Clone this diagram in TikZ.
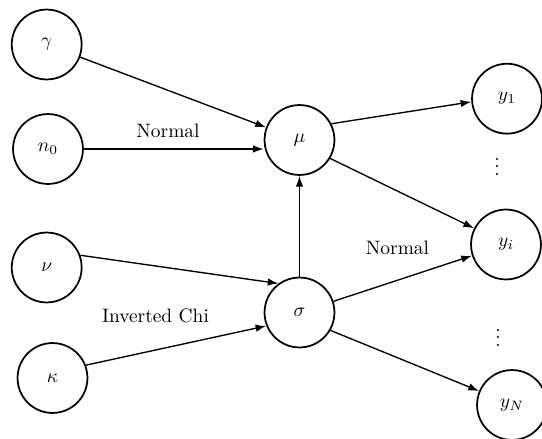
\documentclass[tikz,border=0pt]{standalone}
\usetikzlibrary{arrows.meta}
\begin{document}
\begin{tikzpicture}[x=0.515pt,y=-0.515pt,
  var/.style={circle,draw,line width=0.9pt,minimum size=36pt,inner sep=0pt},
  link/.style={line width=0.7pt,-{Latex[length=5.5pt,width=3.8pt]}},
  lbl/.style={inner sep=0pt}]
\useasboundingbox (0,0) rectangle (542,439);

% hyperparameters
\node[var] (gamma) at (46.7,44.5)  {$\gamma$};
\node[var] (n0)    at (48,149)     {$n_0$};
\node[var] (nu)    at (46.7,267.5) {$\nu$};
\node[var] (kappa) at (52.5,378)   {$\kappa$};

% parameters
\node[var] (mu)    at (299.5,140)   {$\mu$};
\node[var] (sigma) at (299.5,312.5) {$\sigma$};

% observations
\node[var] (y1) at (507,98.7)  {$y_1$};
\node[var] (yi) at (506,244.5) {$y_i$};
\node[var] (yN) at (512,405)   {$y_N$};
\node[lbl] (dots1) at (497,161) {$\vdots$};
\node[lbl] (dots2) at (498,332) {$\vdots$};

% distribution labels
\node[lbl] (normalmu) at (168,131)   {Normal};
\node[lbl] (normaly)  at (397.5,248) {Normal};
\node[lbl] (invchi)   at (155.5,316) {Inverted Chi};

% dependencies
\draw[link] (gamma) -- (mu);
\draw[link] (n0) -- (n0 -| mu.west);
\draw[link] (sigma) -- (mu);
\draw[link] (nu.20) -- (sigma.126);
\draw[link] (kappa.21) -- (sigma.202);
\draw[link] (mu.27) -- (y1.185);
\draw[link] (mu.-31) -- (yi.153);
\draw[link] (sigma) -- (yi);
\draw[link] (sigma.-30) -- (yN.157);
\end{tikzpicture}
\end{document}
